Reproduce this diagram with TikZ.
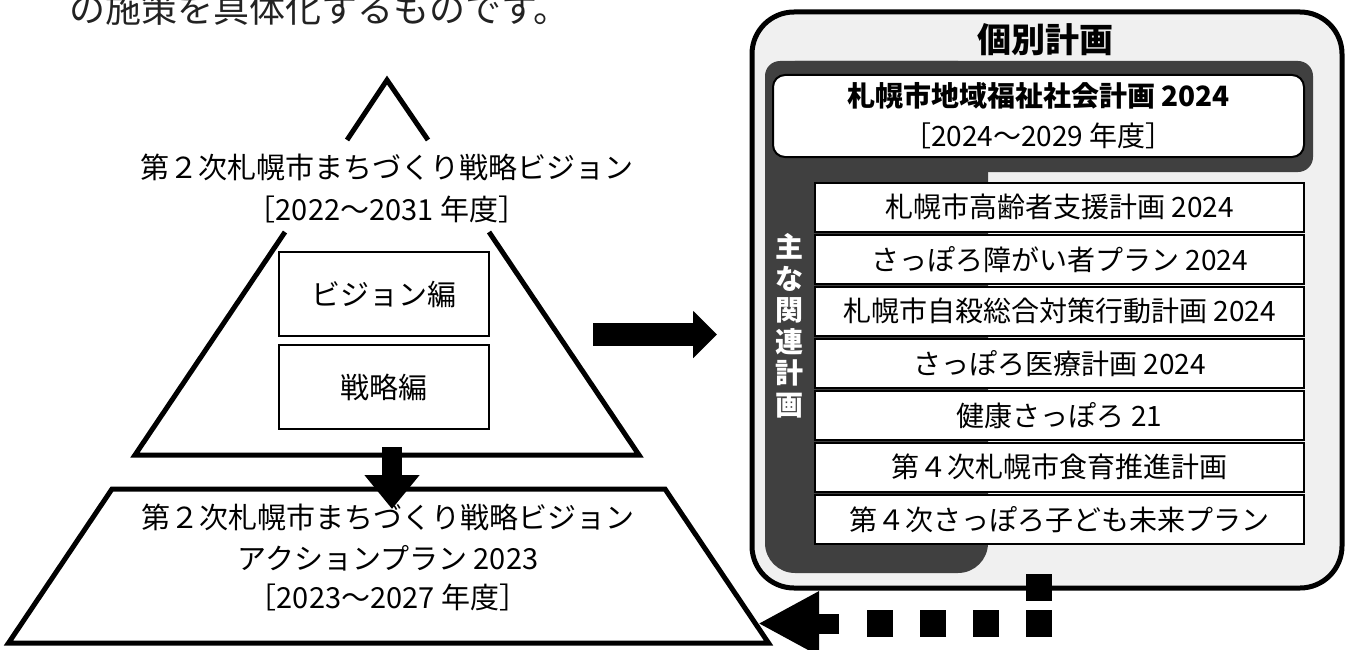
\documentclass[tikz,border=0pt]{standalone}
\usepackage{fontspec}
\setmainfont{Noto Sans CJK JP}
\usetikzlibrary{arrows.meta}
\definecolor{panelgray}{HTML}{F0F0F0}
\definecolor{darkband}{HTML}{404040}
\definecolor{introtext}{HTML}{222222}
\begin{document}
\begin{tikzpicture}[x=1pt,y=-1pt,
  thickline/.style={line width=5pt, line join=miter},
  mtext/.style={font=\fontsize{29}{40}\selectfont, inner sep=0pt, align=center},
  innerbox/.style={draw, line width=1.5pt, fill=white, minimum width=210pt, minimum height=84pt, inner sep=0pt, font=\fontsize{29}{34}\selectfont},
  listbox/.style={draw, line width=2pt, fill=white, minimum width=489pt, minimum height=48.5pt, inner sep=0pt, font=\fontsize{28}{32}\selectfont},
  squaredash/.style={line width=27pt, dash pattern=on 26.5pt off 26.5pt},
]
\useasboundingbox (0,0) rectangle (1351,650);

% intro line (cut at top)
\node[anchor=base west, inner sep=0pt, font=\fontsize{36}{40}\selectfont, text=introtext] (intro) at (69,22.5) {の施策を具体化するものです。};

% upper pyramid
\coordinate (apex) at (387,80);
\coordinate (apexL) at (347,140);
\coordinate (apexR) at (428,140);
\coordinate (legL) at (285,232);
\coordinate (legR) at (489,232);
\coordinate (baseL) at (135,455);
\coordinate (baseR) at (639,455);
\draw[thickline] (apexL) -- (apex) -- (apexR);
\draw[thickline] (legL) -- (baseL) -- (baseR) -- (legR);

\node[mtext] (vision) at (387,167) {第２次札幌市まちづくり戦略ビジョン};
\node[mtext] (visionterm) at (387,209) {［2022～2031 年度］};

\node[innerbox] (visionbox) at (384,294) {ビジョン編};
\node[innerbox] (strategybox) at (384,387) {戦略編};

% lower trapezoid
\coordinate (trTL) at (112,489);
\coordinate (trTR) at (665,489);
\coordinate (trBR) at (768.5,643);
\coordinate (trBL) at (8.5,643);
\draw[thickline, fill=white] (trTL) -- (trTR) -- (trBR) -- (trBL) -- cycle;
\node[mtext] (plan1) at (388,517) {第２次札幌市まちづくり戦略ビジョン};
\node[mtext] (plan2) at (388,558) {アクションプラン 2023};
\node[mtext] (plan3) at (388,597) {［2023～2027 年度］};

% down arrow
\coordinate (downS) at (392,447);
\coordinate (downE) at (392,509);
\draw[line width=20pt, -{Triangle[length=34pt,width=53pt]}] (downS) -- (downE);

% right arrow
\coordinate (rightS) at (593,334.5);
\coordinate (rightE) at (717,334.5);
\draw[line width=23pt, -{Triangle[length=24pt,width=46pt]}] (rightS) -- (rightE);

% right panel
\node[draw, line width=5pt, fill=panelgray, rounded corners=42pt, minimum width=590pt, minimum height=576pt, inner sep=0pt] (panel) at (1047,300) {};
\node[inner sep=0pt, font=\bfseries\fontsize{34}{40}\selectfont] (paneltitle) at (1045,40) {個別計画};

\fill[darkband, rounded corners=15pt] (765,61) rectangle (1313,172);
\fill[darkband, rounded corners=30pt] (765,61) rectangle (988,573);

\node[draw, line width=2pt, fill=white, rounded corners=12pt, minimum width=531pt, minimum height=82pt, inner sep=0pt] (welfarebox) at (1038.5,116) {};
\node[inner sep=0pt, font=\bfseries\fontsize{28}{32}\selectfont] (welfare) at (1038.5,96) {札幌市地域福祉社会計画 2024};
\node[inner sep=0pt, font=\fontsize{28}{32}\selectfont] (welfareterm) at (1038.5,136) {［2024～2029 年度］};

\node[inner sep=0pt, text=white, align=center, font=\bfseries\fontsize{28}{31.5}\selectfont] (related) at (789.5,326) {主\\な\\関\\連\\計\\画};

\node[listbox] (rp1) at (1059.5,207.25) {札幌市高齢者支援計画 2024};
\node[listbox] (rp2) at (1059.5,259.25) {さっぽろ障がい者プラン 2024};
\node[listbox] (rp3) at (1059.5,311.25) {札幌市自殺総合対策行動計画 2024};
\node[listbox] (rp4) at (1059.5,363.25) {さっぽろ医療計画 2024};
\node[listbox] (rp5) at (1059.5,415.25) {健康さっぽろ 21};
\node[listbox] (rp6) at (1059.5,467.25) {第４次札幌市食育推進計画};
\node[listbox] (rp7) at (1059.5,519.25) {第４次さっぽろ子ども未来プラン};

% dashed feedback arrow
\coordinate (fbTop) at (1039,574);
\coordinate (fbTopEnd) at (1039,601);
\coordinate (fbCorner) at (1052,623.5);
\coordinate (fbDashEnd) at (866,623.5);
\coordinate (fbShaft) at (839,623.5);
\coordinate (fbTip) at (758,623.5);
\draw[line width=26pt] (fbTop) -- (fbTopEnd);
\draw[squaredash] (fbCorner) -- (fbDashEnd);
\draw[line width=20pt, -{Triangle[length=61pt,width=60pt]}] (fbShaft) -- (fbTip);
\end{tikzpicture}
\end{document}
